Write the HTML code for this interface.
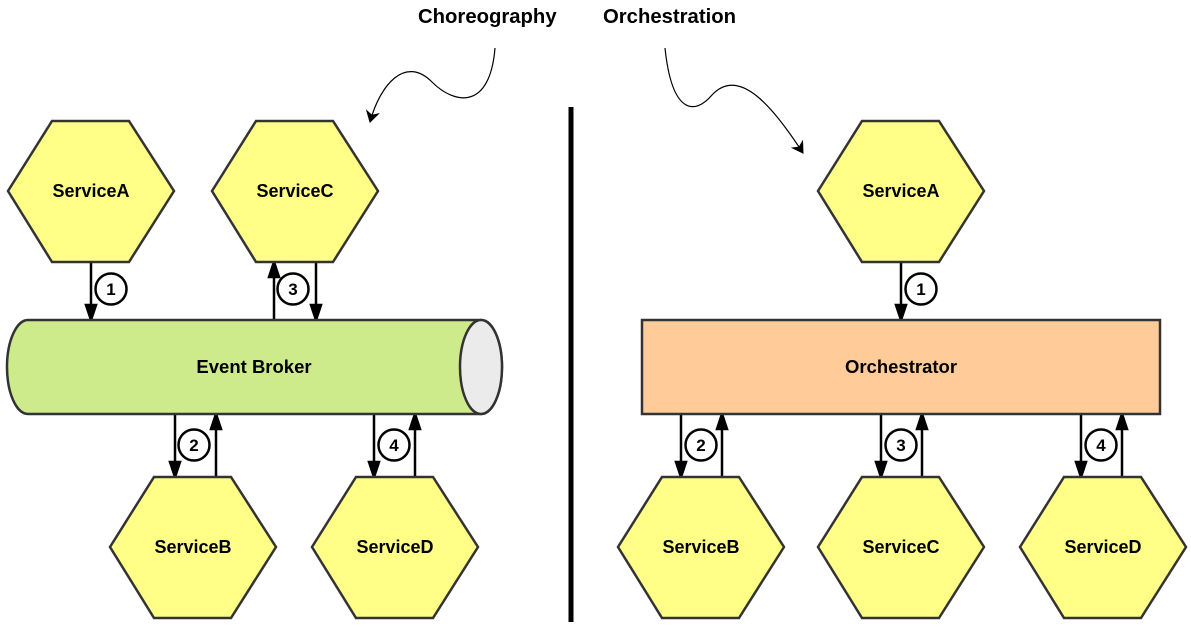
<!DOCTYPE html>
<html><head><style>body{margin:0;background:#fff}svg{display:block}text{font-family:"Liberation Sans",sans-serif;font-weight:bold}</style></head>
<body>
<svg width="1191" height="630" viewBox="0 0 1191 630" xmlns="http://www.w3.org/2000/svg">
<defs>
<marker id="c" markerWidth="14" markerHeight="14" refX="11" refY="7" orient="auto" markerUnits="userSpaceOnUse"><path d="M1,1 L11,7 L1,13 L4,7z" fill="#000" stroke="#000" stroke-width="1"/></marker>
<g id="hx"><polygon points="44,0 121,0 166,70 121,141 44,141 0,70" fill="#ffff88" stroke="#333" stroke-width="2.5"/></g>
</defs>
<text x="418" y="23" font-size="20.3">Choreography</text>
<text x="603" y="23" font-size="20.3">Orchestration</text>
<path d="M495,48 C490,110 455,105 432,82 C405,55 380,85 370,122" fill="none" stroke="#000" stroke-width="1.2" marker-end="url(#c)"/>
<path d="M665,48 C672,115 695,115 712,95 C740,65 775,110 803,153" fill="none" stroke="#000" stroke-width="1.2" marker-end="url(#c)"/>
<rect x="568.5" y="107" width="5" height="515" fill="#000"/>
<g stroke="#000" stroke-width="2.5" fill="none">
<line x1="91" y1="262" x2="91" y2="312"/><path d="M86,305 L96,305 L91,320z" fill="#000"/>
<line x1="274" y1="320" x2="274" y2="270"/><path d="M269,277 L279,277 L274,262z" fill="#000"/>
<line x1="316" y1="262" x2="316" y2="312"/><path d="M311,305 L321,305 L316,320z" fill="#000"/>
<line x1="175" y1="414" x2="175" y2="469"/><path d="M170,462 L180,462 L175,477z" fill="#000"/>
<line x1="216" y1="477" x2="216" y2="422"/><path d="M211,429 L221,429 L216,414z" fill="#000"/>
<line x1="374" y1="414" x2="374" y2="469"/><path d="M369,462 L379,462 L374,477z" fill="#000"/>
<line x1="415" y1="477" x2="415" y2="422"/><path d="M410,429 L420,429 L415,414z" fill="#000"/>
<line x1="901" y1="262" x2="901" y2="312"/><path d="M896,305 L906,305 L901,320z" fill="#000"/>
<line x1="681" y1="414" x2="681" y2="469"/><path d="M676,462 L686,462 L681,477z" fill="#000"/>
<line x1="722" y1="477" x2="722" y2="422"/><path d="M717,429 L727,429 L722,414z" fill="#000"/>
<line x1="881" y1="414" x2="881" y2="469"/><path d="M876,462 L886,462 L881,477z" fill="#000"/>
<line x1="922" y1="477" x2="922" y2="422"/><path d="M917,429 L927,429 L922,414z" fill="#000"/>
<line x1="1081" y1="414" x2="1081" y2="469"/><path d="M1076,462 L1086,462 L1081,477z" fill="#000"/>
<line x1="1122" y1="477" x2="1122" y2="422"/><path d="M1117,429 L1127,429 L1122,414z" fill="#000"/>
</g>
<g stroke="#000" stroke-width="2.5" fill="#fff">
<circle cx="111" cy="289" r="15.5"/><circle cx="293" cy="289" r="15.5"/><circle cx="194" cy="445" r="15.5"/><circle cx="394" cy="445" r="15.5"/>
<circle cx="921" cy="289" r="15.5"/><circle cx="701" cy="445" r="15.5"/><circle cx="901" cy="445" r="15.5"/><circle cx="1101" cy="445" r="15.5"/>
</g>
<g font-size="17" text-anchor="middle">
<text x="111" y="295">1</text><text x="293" y="295">3</text><text x="194" y="451">2</text><text x="394" y="451">4</text>
<text x="921" y="295">1</text><text x="701" y="451">2</text><text x="901" y="451">3</text><text x="1101" y="451">4</text>
</g>
<path d="M28,320 L481,320 A21,47 0 0 1 481,414 L28,414 A21,47 0 0 1 28,320z" fill="#cdeb8b" stroke="#333" stroke-width="2.5"/>
<ellipse cx="481" cy="367" rx="21" ry="47" fill="#ebebeb" stroke="#333" stroke-width="2.5"/>
<text x="254" y="373" font-size="18.5" text-anchor="middle">Event Broker</text>
<rect x="642" y="320" width="518" height="94" fill="#ffcc99" stroke="#333" stroke-width="2.5"/>
<text x="901" y="373" font-size="18.5" text-anchor="middle">Orchestrator</text>
<use href="#hx" x="8" y="121"/><use href="#hx" x="212" y="121"/>
<use href="#hx" x="110" y="477"/><use href="#hx" x="312" y="477"/>
<use href="#hx" x="818" y="121"/>
<use href="#hx" x="618" y="477"/><use href="#hx" x="818" y="477"/><use href="#hx" x="1020" y="477"/>
<g font-size="18" text-anchor="middle">
<text x="91" y="197">ServiceA</text><text x="295" y="197">ServiceC</text>
<text x="193" y="553">ServiceB</text><text x="395" y="553">ServiceD</text>
<text x="901" y="197">ServiceA</text>
<text x="701" y="553">ServiceB</text><text x="901" y="553">ServiceC</text><text x="1103" y="553">ServiceD</text>
</g>
</svg>
</body></html>
